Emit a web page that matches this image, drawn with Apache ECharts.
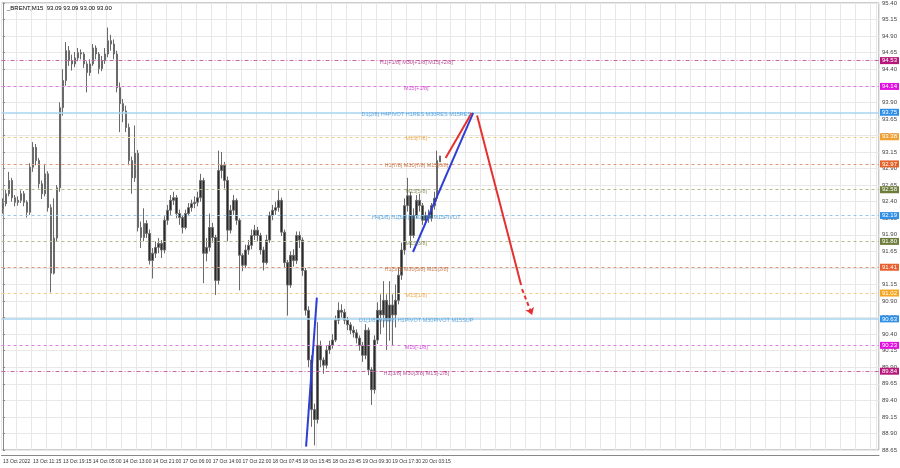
<!DOCTYPE html>
<html><head><meta charset="utf-8">
<script src="https://cdn.jsdelivr.net/npm/echarts/dist/echarts.min.js"></script>
<style>html,body{margin:0;padding:0;background:#fff}#c{width:900px;height:468px}</style>
</head><body><div id="c"></div>
<script>
// ---- data ----
const titleText = '_BRENT,M15  93.09 93.09 93.00 93.00';
const barCount = 293;               // bars incl. empty future space
const tickLabels = ['13 Oct 2022','13 Oct 11:15','13 Oct 19:15','14 Oct 05:00','14 Oct 13:00','14 Oct 21:00',
  '17 Oct 06:00','17 Oct 14:00','17 Oct 22:00','18 Oct 07:45','18 Oct 15:45','18 Oct 23:45',
  '19 Oct 09:30','19 Oct 17:30','20 Oct 03:15'];
// [open, close, low, high]
const candles = [
[92.30,92.37,92.22,92.45],[92.37,92.52,92.33,92.58],[92.52,92.72,92.48,92.85],[92.72,92.46,92.40,92.76],
[92.46,92.39,92.33,92.50],[92.39,92.42,92.34,92.48],[92.42,92.52,92.38,92.57],[92.52,92.39,92.33,92.56],
[92.39,92.24,92.16,92.42],[92.24,92.92,92.20,92.98],[92.92,93.22,92.85,93.30],[93.22,93.02,92.95,93.27],
[93.02,92.67,92.60,93.06],[92.67,92.52,92.44,92.72],[92.52,92.82,92.48,92.97],[92.82,92.31,92.25,92.86],
[92.31,91.32,91.03,92.36],[91.32,91.85,91.30,92.45],[91.85,92.61,91.80,92.65],[92.61,93.82,92.55,93.90],
[93.82,94.23,93.70,94.40],[94.23,94.68,94.15,94.81],[94.68,94.53,94.45,94.75],[94.53,94.48,94.38,94.62],
[94.48,94.57,94.43,94.66],[94.57,94.65,94.52,94.72],[94.65,94.63,94.55,94.70],[94.63,94.48,94.42,94.66],
[94.48,94.35,94.05,94.52],[94.35,94.48,94.30,94.55],[94.48,94.72,94.45,94.78],[94.72,94.63,94.55,94.76],
[94.63,94.41,94.33,94.66],[94.41,94.53,94.37,94.60],[94.53,94.63,94.48,94.72],[94.63,94.83,94.58,95.03],
[94.83,94.78,94.68,94.92],[94.78,94.63,94.55,94.85],[94.63,94.12,94.05,94.68],[94.12,93.88,93.45,94.20],
[93.88,93.77,93.60,93.95],[93.77,93.52,93.45,93.85],[93.52,93.02,92.95,93.58],[93.02,92.76,92.52,93.08],
[92.76,93.13,92.70,93.55],[93.13,92.01,91.95,93.18],[92.01,91.86,91.70,92.10],[91.86,92.07,91.80,92.30],
[92.07,91.92,91.85,92.12],[91.92,91.51,91.45,91.98],[91.51,91.62,91.24,91.70],[91.62,91.71,91.55,91.80],
[91.71,91.77,91.62,91.85],[91.77,91.67,91.55,91.82],[91.67,92.12,91.62,92.18],[92.12,92.27,92.05,92.35],
[92.27,92.42,92.20,92.50],[92.42,92.46,92.35,92.55],[92.46,92.22,92.15,92.50],[92.22,92.16,92.05,92.28],
[92.16,92.01,91.92,92.20],[92.01,92.22,91.98,92.28],[92.22,92.31,92.18,92.38],[92.31,92.37,92.25,92.43],
[92.37,92.39,92.30,92.48],[92.39,92.46,92.33,92.55],[92.46,92.72,92.40,92.82],[92.72,91.62,91.17,92.76],
[91.62,91.71,91.50,91.85],[91.71,92.01,91.65,92.22],[92.01,91.86,91.78,92.08],[91.86,91.21,90.99,91.90],
[91.21,92.87,91.15,93.17],[92.87,92.95,92.75,93.15],[92.95,92.72,92.60,93.00],[92.72,91.97,91.80,92.78],
[91.97,92.27,91.92,92.35],[92.27,92.42,92.20,92.50],[92.42,92.12,92.05,92.45],[92.12,91.59,91.06,92.15],
[91.59,91.44,91.35,91.62],[91.44,91.67,91.40,91.75],[91.67,91.74,91.60,91.82],[91.74,91.89,91.68,91.98],
[91.89,91.97,91.82,92.05],[91.97,91.89,91.80,92.02],[91.89,91.67,91.60,91.93],[91.67,91.48,91.36,91.72],
[91.48,91.82,91.45,91.90],[91.82,92.19,91.78,92.25],[92.19,92.27,92.12,92.35],[92.27,92.31,92.20,92.40],
[92.31,92.42,92.25,92.57],[92.42,91.94,91.88,92.46],[91.94,91.48,91.40,91.98],[91.48,91.14,90.68,91.52],
[91.14,91.59,91.10,91.65],[91.59,91.51,91.42,91.68],[91.51,91.89,91.46,91.95],[91.89,91.82,91.70,91.95],
[91.82,91.36,91.28,91.86],[91.36,90.76,90.68,91.40],[90.76,90.01,89.90,90.82],[90.01,89.26,89.00,90.08],
[89.26,89.11,88.72,89.35],[89.11,90.23,89.05,90.58],[90.23,90.01,89.90,90.30],[90.01,89.93,89.80,90.05],
[89.93,90.16,89.88,90.22],[90.16,90.23,90.10,90.30],[90.23,90.31,90.18,90.40],[90.31,90.61,90.28,90.68],
[90.61,90.76,90.55,90.88],[90.76,90.73,90.65,90.85],[90.73,90.61,90.55,90.78],[90.61,90.54,90.46,90.66],
[90.54,90.46,90.40,90.58],[90.46,90.42,90.35,90.52],[90.42,90.34,90.26,90.47],[90.34,90.23,90.15,90.38],
[90.23,90.08,89.98,90.28],[90.08,90.46,90.02,90.55],[90.46,89.86,89.78,90.50],[89.86,89.56,89.33,89.90],
[89.56,90.31,89.50,90.38],[90.31,90.76,90.25,90.88],[90.76,90.69,90.40,91.00],[90.69,90.91,90.50,91.20],
[90.91,90.61,90.16,91.00],[90.61,90.84,90.30,91.20],[90.84,90.69,90.23,91.00],[90.69,90.91,90.50,91.15],
[90.91,91.29,90.85,91.40],[91.29,91.67,91.22,91.78],[91.67,92.34,91.60,92.45],[92.34,92.49,92.25,92.76],
[92.49,91.89,91.70,92.55],[91.89,92.19,91.85,92.30],[92.19,92.42,92.15,92.50],[92.42,92.34,92.25,92.52],
[92.34,92.12,92.05,92.38],[92.12,92.19,92.05,92.25],[92.19,92.15,92.08,92.28],[92.15,92.34,92.10,92.38],
[92.34,92.45,92.28,92.55],[92.45,93.02,92.40,93.17],[93.09,93.00,93.00,93.09]
];
const currentPrice = 93.00;
const levelPrices = [94.53, 94.14, 93.75, 93.38, 92.97, 92.58, 92.19, 91.80, 91.41, 91.02, 90.63, 90.23, 89.84];
const levelNames = [
  'H1[+1/8] M30[+1/8] M15[+2/8]', 'M15[+1/8]', 'D1[2/8] H4PIVOT H1RES M30RES M15RES', 'M15[7/8]',
  'H1[7/8] M30[7/8] M15[6/8]', 'M15[5/8]', 'H4[3/8] H1[6/8] M30[6/8] M15PIVOT', 'M15[3/8]',
  'H1[5/8] M30[5/8] M15[2/8]', 'M15[1/8]', 'D1[1/8] H4[2/8] H1PIVOT M30PIVOT M15SUP', 'M15[-1/8]',
  'H1[3/8] M30[3/8] M15[-2/8]'];
const levelLabelBar = 138;
// trend lines: [barIndex, price] pairs
const blueLine1 = [[101.2, 88.70], [104.8, 90.95]];
const blueLine2 = [[136.9, 91.64], [157.0, 93.74]];
const redLine1 = [[147.8, 93.06], [156.5, 93.74]];
const redLine2 = [[158.3, 93.70], [173.0, 91.14]];
const redArrow = [[173.3, 91.08], [176.7, 90.69]];

// ---- styles (kept apart from data) ----
const levelStyle = [
  {line:'#c865a8', box:'#b5187a', text:'#a8207a', type:[4,2,1,2]},
  {line:'#e27be2', box:'#e010e0', text:'#cc22cc', type:[3,3]},
  {line:'#a9d3f0', box:'#2f8fe8', text:'#3a94d6', type:'solid'},
  {line:'#f2cc8f', box:'#f0a030', text:'#e59a2a', type:[3,3]},
  {line:'#dc9a78', box:'#e2622a', text:'#c0602a', type:[3,3]},
  {line:'#b8b88a', box:'#6e7d3b', text:'#6e7a3e', type:[3,3]},
  {line:'#94c4ea', box:'#3090e8', text:'#3a94d6', type:[3,3]},
  {line:'#b8b88a', box:'#6e7d3b', text:'#6e7a3e', type:[3,3]},
  {line:'#dc9a78', box:'#e86030', text:'#c0602a', type:[3,3]},
  {line:'#f2cc8f', box:'#f5a623', text:'#e59a2a', type:[3,3]},
  {line:'#a9d3f0', box:'#3090e8', text:'#3a94d6', type:'solid'},
  {line:'#e27be2', box:'#e010e0', text:'#cc22cc', type:[3,3]},
  {line:'#c865a8', box:'#b5187a', text:'#a8207a', type:[4,2,1,2]}
];
const FONT = 'Liberation Sans';

const categories = Array.from({length: barCount}, (_, i) => String(i));

const levelMarkData = levelPrices.map((p, i) => ({
  yAxis: p,
  lineStyle: {color: levelStyle[i].line, type: levelStyle[i].type, width: levelStyle[i].type === 'solid' ? 1.5 : 1},
  label: {show: true, position: 'end', distance: 1, formatter: p.toFixed(2), color: '#fff',
          backgroundColor: levelStyle[i].box, padding: [1, 2, 0, 2], fontSize: 6, fontFamily: FONT}
}));
levelMarkData.push({
  yAxis: currentPrice,
  lineStyle: {opacity: 0},
  label: {show: true, position: 'end', distance: 1, formatter: currentPrice.toFixed(2), color: '#fff',
          backgroundColor: '#000', padding: [1, 2, 0, 2], fontSize: 6, fontFamily: FONT}
});

function seg(pts, color, dashed, arrow) {
  return [
    {coord: pts[0], symbol: 'none', lineStyle: {color: color, width: 2, type: dashed ? [4, 3] : 'solid'}},
    {coord: pts[1], symbol: arrow ? 'arrow' : 'none', symbolSize: arrow ? 7 : 0}
  ];
}

const chart = echarts.init(document.getElementById('c'), null, {renderer: 'canvas'});
chart.setOption({
  animation: false,
  backgroundColor: '#fff',
  title: {text: titleText, left: 2, top: 0,
          textStyle: {fontSize: 6, fontWeight: 'normal', color: '#000', fontFamily: FONT}},
  grid: {left: 1, right: 20, top: 2, bottom: 18, show: true, borderColor: '#9a9a9a', borderWidth: 1},
  xAxis: [{
    type: 'category', data: categories, boundaryGap: true, offset: 5,
    axisLine: {show: true, lineStyle: {color: '#888'}},
    axisTick: {show: false},
    axisLabel: {interval: 0,
                formatter: (v) => { const n = Number(v); return n % 10 === 0 ? (tickLabels[n / 10] || '') : ''; },
                showMinLabel: true, showMaxLabel: true, hideOverlap: false,
                align: 'left', fontSize: 5, color: '#333', margin: 4, fontFamily: FONT},
    splitLine: {show: true, interval: 4, lineStyle: {color: '#e8e8e8', width: 1}}
  }, {
    type: 'value', min: -0.5, max: barCount - 0.5, show: false
  }],
  yAxis: {
    type: 'value', position: 'right', min: 88.65, max: 95.40, interval: 0.25, scale: true,
    axisLine: {show: true, lineStyle: {color: '#888'}},
    axisTick: {show: true, length: 2, lineStyle: {color: '#888'}},
    axisLabel: {formatter: (v) => v.toFixed(2), fontSize: 6, color: '#444', margin: 3, fontFamily: FONT},
    splitLine: {show: true, lineStyle: {color: '#e8e8e8', width: 1}}
  },
  series: [{
    type: 'candlestick', xAxisIndex: 0, data: candles, barWidth: 2,
    itemStyle: {color: '#2a2a2a', color0: '#2a2a2a', borderColor: '#6a6a6a', borderColor0: '#6a6a6a', borderWidth: 1},
    markLine: {silent: true, symbol: 'none', animation: false, precision: 2, data: levelMarkData}
  }, {
    type: 'scatter', xAxisIndex: 1, symbolSize: 2, silent: true, z: 5,
    itemStyle: {color: 'rgba(0,0,0,0)'},
    data: levelPrices.map((p, i) => ({
      value: [levelLabelBar, p],
      label: {show: true, position: 'inside', offset: [0, 2], formatter: levelNames[i],
              color: levelStyle[i].text, fontSize: 5.5, fontFamily: FONT}
    })),
    markLine: {silent: true, animation: false, label: {show: false},
      data: [seg(blueLine1, '#2f3fd6', false, false), seg(blueLine2, '#2f3fd6', false, false),
             seg(redLine1, '#e53030', false, false), seg(redLine2, '#e53030', false, false),
             seg(redArrow, '#e53030', true, true)]}
  }]
});
</script></body></html>
